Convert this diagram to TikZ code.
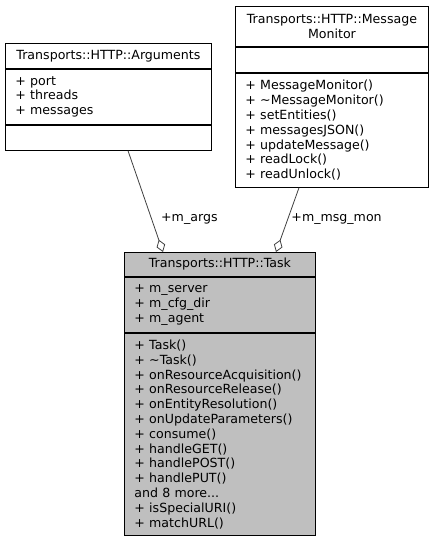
\documentclass[tikz,border=0pt]{standalone}
\usepackage{fontspec}
\setmainfont{DejaVu Sans}
\usetikzlibrary{arrows.meta,positioning}
\definecolor{TaskFill}{HTML}{BFBFBF}
\definecolor{EdgeGray}{HTML}{404040}
\tikzset{
  part/.style n args={3}{draw=black, line width=0.9pt, anchor=north west, text width=#1, minimum height=#2, inner xsep=10pt, inner ysep=0pt, align=#3, font=\fontsize{12.6}{14.8}\selectfont},
  member/.style={-{Diamond[open,length=13pt,width=9pt]}, draw=EdgeGray, line width=0.8pt},
  elabel/.style={font=\fontsize{12.6}{14.8}\selectfont, text=black}
}
\begin{document}
\begin{tikzpicture}[x=1pt,y=-1pt]
\useasboundingbox (0,0) rectangle (433,539);
% Transports::HTTP::Arguments
\node[part={186pt}{25pt}{center}] (argsT) at (5,43) {Transports::HTTP::Arguments};
\node[part={186pt}{55pt}{left}] (argsA) at (argsT.south west) {+ port\\+ threads\\+ messages};
\node[part={186pt}{25pt}{left}] (argsM) at (argsA.south west) {};
% Transports::HTTP::MessageMonitor
\node[part={173pt}{40pt}{center}] (monT) at (235,6) {Transports::HTTP::Message\\Monitor};
\node[part={173pt}{25pt}{left}] (monA) at (monT.south west) {};
\node[part={173pt}{114pt}{left}] (monM) at (monA.south west) {+ MessageMonitor()\\+ \textasciitilde MessageMonitor()\\+ setEntities()\\+ messagesJSON()\\+ updateMessage()\\+ readLock()\\+ readUnlock()};
% Transports::HTTP::Task
\node[part={171pt}{24pt}{center}, fill=TaskFill] (taskT) at (124,252) {Transports::HTTP::Task};
\node[part={171pt}{55pt}{left}, fill=TaskFill] (taskA) at (taskT.south west) {+ m\_server\\+ m\_cfg\_dir\\+ m\_agent};
\node[part={171pt}{202pt}{left}, fill=TaskFill] (taskM) at (taskA.south west) {+ Task()\\+ \textasciitilde Task()\\+ onResourceAcquisition()\\+ onResourceRelease()\\+ onEntityResolution()\\+ onUpdateParameters()\\+ consume()\\+ handleGET()\\+ handlePOST()\\+ handlePUT()\\and 8 more...\\+ isSpecialURI()\\+ matchURL()};
% members
\draw[member] ([xshift=123pt]argsM.south west) -- ([xshift=39pt]taskT.north west)
  node[elabel, pos=0.67, right=6pt] {+m\_args};
\draw[member] ([xshift=64pt]monM.south west) -- ([xshift=152pt]taskT.north west)
  node[elabel, pos=0.49, anchor=west] {+m\_msg\_mon};
\end{tikzpicture}
\end{document}
